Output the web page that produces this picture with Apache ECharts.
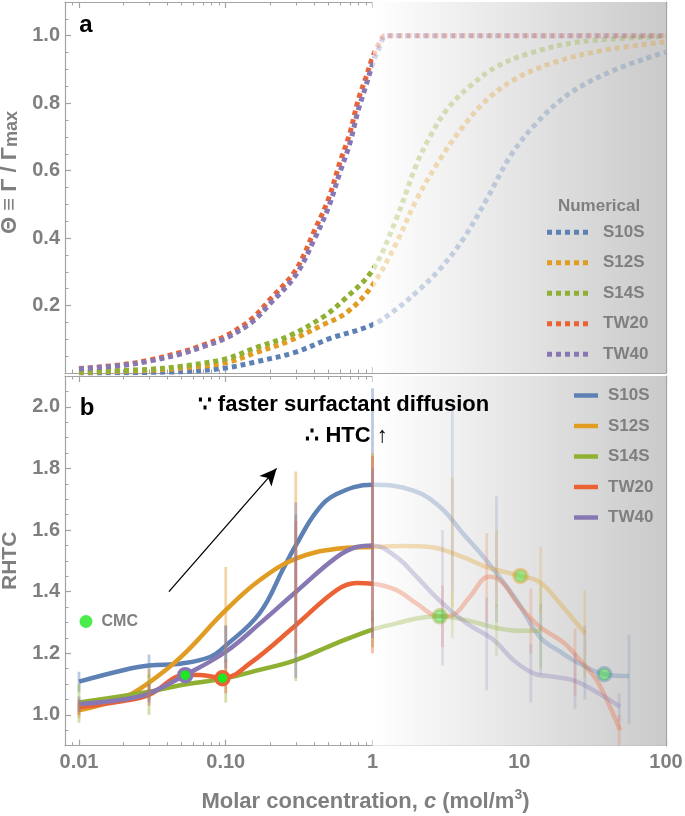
<!DOCTYPE html>
<html><head><meta charset="utf-8">
<script src="https://cdn.jsdelivr.net/npm/echarts@6/dist/echarts.min.js"></script>
<style>html,body{margin:0;padding:0;background:#fff}#c{width:685px;height:816px}</style>
</head><body><div id="c"></div>
<script>
// ---------- data ----------
const seriesNames = ['S10S', 'S12S', 'S14S', 'TW20', 'TW40'];
const seriesColors = ['#5E81B5', '#E19C24', '#8FB032', '#EB6235', '#8778B3'];
const xTickValues = [0.01, 0.1, 1, 10, 100];
const xTickLabels = ['0.01', '0.10', '1', '10', '100'];
const thetaTicks = [0.2, 0.4, 0.6, 0.8, 1.0];
const rhtcTicks = [1.0, 1.2, 1.4, 1.6, 1.8, 2.0];

// panel a: surface coverage (concentration, theta)
const thetaS10S = [[0.01,0.0],[0.05,0.004],[0.1,0.015],[0.16,0.033],[0.3,0.062],[0.51,0.102],[1,0.143],[1.46,0.19],[2,0.24],[2.88,0.308],[4.15,0.397],[6,0.515],[8.7,0.643],[13.1,0.741],[22.2,0.83],[44.4,0.898],[100,0.952]];
const thetaS12S = [[0.01,0.002],[0.03,0.008],[0.06,0.018],[0.1,0.03],[0.16,0.06],[0.27,0.095],[0.46,0.143],[0.67,0.18],[1,0.26],[1.46,0.387],[2,0.515],[2.88,0.633],[4.15,0.731],[6,0.81],[9.6,0.874],[17.9,0.923],[37.7,0.957],[100,0.982]];
const thetaS14S = [[0.01,0.003],[0.03,0.011],[0.05,0.02],[0.1,0.042],[0.16,0.075],[0.27,0.11],[0.46,0.166],[0.63,0.215],[1,0.305],[1.46,0.46],[2,0.62],[2.46,0.70],[3.2,0.78],[4.6,0.85],[7,0.908],[11.8,0.948],[26,0.982],[100,0.998]];
const thetaTW20 = [[0.01,0.013],[0.02,0.025],[0.03,0.038],[0.05,0.062],[0.07,0.083],[0.1,0.11],[0.15,0.16],[0.2,0.218],[0.3,0.305],[0.4,0.42],[0.5,0.515],[0.6,0.625],[0.7,0.71],[0.8,0.81],[0.9,0.875],[1,0.935],[1.1,0.975],[1.22,1.0],[2,1.0],[100,1.0]];
const thetaTW40 = [[0.01,0.012],[0.02,0.023],[0.03,0.035],[0.05,0.057],[0.07,0.078],[0.1,0.103],[0.15,0.15],[0.2,0.205],[0.3,0.29],[0.4,0.395],[0.5,0.49],[0.6,0.595],[0.7,0.68],[0.8,0.78],[0.9,0.85],[1,0.915],[1.1,0.96],[1.25,1.0],[2,1.0],[100,1.0]];

// panel b: RHTC curves (concentration, RHTC)
const rhtcS10S = [[0.01,1.108],[0.02,1.145],[0.03,1.16],[0.05,1.167],[0.078,1.188],[0.1,1.225],[0.17,1.33],[0.25,1.48],[0.3,1.55],[0.42,1.663],[0.57,1.717],[1,1.747],[1.9,1.728],[2.9,1.674],[4.15,1.588],[6,1.50],[9.5,1.375],[13.8,1.253],[19,1.205],[25,1.17],[38,1.132],[56,1.126]];
const rhtcS12S = [[0.01,1.015],[0.02,1.055],[0.03,1.105],[0.05,1.19],[0.1,1.34],[0.17,1.437],[0.3,1.507],[0.57,1.539],[1,1.545],[1.6,1.548],[2.46,1.545],[4.15,1.512],[6,1.48],[10.2,1.451],[13.8,1.431],[19,1.361],[28,1.265]];
const rhtcS14S = [[0.01,1.04],[0.03,1.075],[0.05,1.097],[0.1,1.119],[0.17,1.146],[0.3,1.178],[0.57,1.233],[1,1.277],[1.46,1.297],[2,1.313],[2.88,1.32],[4.15,1.31],[7,1.282],[10,1.273],[14,1.273]];
const rhtcTW20 = [[0.01,1.025],[0.02,1.045],[0.03,1.065],[0.053,1.13],[0.07,1.129],[0.095,1.119],[0.146,1.167],[0.3,1.291],[0.57,1.405],[0.78,1.428],[1,1.426],[1.46,1.405],[2,1.361],[2.88,1.32],[3.5,1.324],[4.6,1.383],[6.2,1.448],[7.6,1.432],[9.8,1.36],[13.8,1.286],[20,1.235],[25.9,1.178],[33.6,1.113],[41.4,1.027],[48.6,0.951]];
const rhtcTW40 = [[0.01,1.035],[0.02,1.05],[0.03,1.07],[0.0527,1.129],[0.1,1.205],[0.171,1.297],[0.3,1.399],[0.57,1.512],[0.78,1.545],[1,1.55],[1.46,1.512],[2,1.448],[2.88,1.37],[4.3,1.30],[6.7,1.243],[9.1,1.178],[12.5,1.135],[17.1,1.124],[23.2,1.113],[31.8,1.081],[48.6,1.027]];

// panel b: error bars (concentration, low, high)
const errS10S = [[0.01,1.075,1.14],[0.03,1.12,1.196],[0.1,1.17,1.29],[0.3,1.3,1.65],[1,1.44,2.06],[3.5,1.4,2.01],[7,1.3,1.71],[14,1.13,1.36],[28,1.05,1.29],[56,0.97,1.26]];
const errS12S = [[0.01,0.99,1.04],[0.03,1.05,1.15],[0.1,1.2,1.48],[0.3,1.25,1.79],[1,1.3,1.85],[3.5,1.35,1.77],[7,1.35,1.6],[14,1.33,1.545],[28,1.12,1.405]];
const errS14S = [[0.01,0.975,1.1],[0.03,1.0,1.13],[0.1,1.04,1.2],[0.3,1.11,1.25],[1,1.22,1.34],[3.5,1.25,1.4],[7,1.19,1.36],[14,1.15,1.42]];
const errTW20 = [[0.01,1.0,1.05],[0.03,1.03,1.1],[0.1,1.07,1.18],[0.3,1.2,1.63],[1,1.2,1.84],[3,1.22,1.42],[6,1.3,1.59],[12,1.2,1.41],[24,1.06,1.28],[48,0.9,1.0]];
const errTW40 = [[0.01,1.01,1.06],[0.03,1.04,1.1],[0.1,1.15,1.29],[0.3,1.12,1.69],[1,1.25,1.8],[3,1.16,1.6],[6,1.08,1.38],[12,1.04,1.23],[24,1.02,1.2],[48,0.98,1.07]];

// CMC markers (concentration, RHTC), one per surfactant
const cmcX = [38, 10.2, 2.88, 0.095, 0.053];
const cmcY = [1.132, 1.451, 1.320, 1.119, 1.129];

// arrow annotation (concentration, RHTC)
const arrowFrom = [0.041, 1.40];
const arrowTo = [0.222, 1.80];

// ---------- chart ----------
const thetaData = [thetaS10S, thetaS12S, thetaS14S, thetaTW20, thetaTW40];
const rhtcData = [rhtcS10S, rhtcS12S, rhtcS14S, rhtcTW20, rhtcTW40];
const errData = [errS10S, errS12S, errS14S, errTW20, errTW40];

const FONT = "'Liberation Sans', Arial, Helvetica, sans-serif";
const GRAY = '#7f7f7f';
const FRAME = '#a3a3a3';
const XMIN = -2.0954, XMAX = 2;
const L = v => Math.log10(v);

function rgba(hex, a) {
  const n = parseInt(hex.slice(1), 16);
  return 'rgba(' + (n >> 16 & 255) + ',' + (n >> 8 & 255) + ',' + (n & 255) + ',' + a + ')';
}

const majorX = xTickValues.map(L);
const minorX = [];
for (let d = -3; d <= 1; d++) for (let m = 2; m <= 9; m++) {
  const v = L(m * Math.pow(10, d));
  if (v > XMIN + 0.004 && v < XMAX - 0.001) minorX.push(v);
}
function minorY(lo, hi, step, majors) {
  const out = [];
  for (let v = lo + step; v < hi - 1e-6; v += step) {
    const r = Math.round(v * 1000) / 1000;
    if (!majors.some(m => Math.abs(m - r) < 1e-6)) out.push(r);
  }
  return out;
}
const minorTheta = minorY(0, 1.1, 0.05, thetaTicks);
const minorRhtc = minorY(0.9, 2.1, 0.05, rhtcTicks);

const grids = [
  {left: 65, right: 19, top: 2, height: 371, containLabel: false, outerBoundsMode: 'none'},
  {left: 65, right: 19, top: 376, height: 369.7, containLabel: false, outerBoundsMode: 'none'}
];

const tickLine = {color: FRAME, width: 1.2};
const labelStyle = {color: GRAY, fontSize: 20, fontWeight: 'bold', fontFamily: FONT};

function xAxesFor(gi, withLabels) {
  const base = {gridIndex: gi, type: 'value', min: XMIN, max: XMAX, splitLine: {show: false}};
  const major = (pos, labels) => Object.assign({}, base, {
    position: pos,
    axisLine: {show: true, onZero: false, lineStyle: tickLine},
    axisTick: {show: true, inside: true, length: 6, customValues: majorX, lineStyle: tickLine},
    axisLabel: labels ? Object.assign({show: true, customValues: majorX, margin: 7,
      formatter: v => { let bi = 0; majorX.forEach((m, i) => { if (Math.abs(m - v) < Math.abs(majorX[bi] - v)) bi = i; }); return xTickLabels[bi]; }
    }, labelStyle) : {show: false}
  });
  const minor = pos => Object.assign({}, base, {
    position: pos,
    axisLine: {show: false, onZero: false},
    axisTick: {show: true, inside: true, length: 3.5, customValues: minorX, lineStyle: {color: FRAME, width: 1}},
    axisLabel: {show: false}
  });
  const m = major('bottom', withLabels);
  if (withLabels) {
    m.name = '{a|Molar concentration, }{i|c}{a| (mol/m}{p|3}{a|)}';
    m.nameLocation = 'middle';
    m.nameGap = 42;
    m.nameTextStyle = {rich: {
      a: {fontSize: 22, fontWeight: 'bold', color: GRAY, fontFamily: FONT, lineHeight: 28},
      i: {fontSize: 22, fontWeight: 'bold', fontStyle: 'italic', color: GRAY, fontFamily: FONT, lineHeight: 28},
      p: {fontSize: 14, fontWeight: 'bold', color: GRAY, fontFamily: FONT, verticalAlign: 'top', lineHeight: 14}
    }};
  }
  return [m, minor('bottom'), major('top', false), minor('top')];
}

function yAxesFor(gi, min, max, majors, minors, name, nameStyle, gap) {
  const base = {gridIndex: gi, type: 'value', min: min, max: max, splitLine: {show: false}};
  const major = (pos, labels) => Object.assign({}, base, {
    position: pos,
    axisLine: {show: true, onZero: false, lineStyle: tickLine},
    axisTick: {show: true, inside: true, length: 6, customValues: majors, lineStyle: tickLine},
    axisLabel: labels ? Object.assign({show: true, customValues: majors, margin: 5, formatter: v => v.toFixed(1)}, labelStyle) : {show: false}
  });
  const minor = pos => Object.assign({}, base, {
    position: pos,
    axisLine: {show: false, onZero: false},
    axisTick: {show: true, inside: true, length: 3.5, customValues: minors, lineStyle: {color: FRAME, width: 1}},
    axisLabel: {show: false}
  });
  const m = major('left', true);
  m.name = name;
  m.nameLocation = 'middle';
  m.nameGap = gap;
  m.nameRotate = 90;
  m.nameTextStyle = nameStyle;
  return [m, minor('left'), major('right', false), minor('right')];
}

const xAxis = xAxesFor(0, false).concat(xAxesFor(1, true));
const yAxis = yAxesFor(0, 0, 1.1, thetaTicks, minorTheta, '{t|Θ ≡ Γ / Γ}{s|max}', {
  padding: [0, 0, 0, 30],
  rich: {
    t: {fontSize: 22, fontWeight: 'bold', color: GRAY, fontFamily: FONT, lineHeight: 22},
    s: {fontSize: 18, fontWeight: 'bold', color: GRAY, fontFamily: FONT, verticalAlign: 'bottom', lineHeight: 18, padding: [6, 0, 0, 0]}
  }
}, 41).concat(yAxesFor(1, 0.9, 2.1, rhtcTicks, minorRhtc, 'RHTC', {
  fontSize: 21, fontWeight: 'bold', color: GRAY, fontFamily: FONT, lineHeight: 21
}, 44));

const bgGradient = () => new echarts.graphic.LinearGradient(0, 0, 1, 0, [
  {offset: 0, color: '#ffffff'}, {offset: 1, color: '#cacaca'}
]);
const splitPieces = (c) => [
  {gte: -4, lte: 0, color: c},
  {gt: 0, lte: 4, color: rgba(c, 0.32)}
];

const series = [];
const visualMap = [];
// backgrounds
[0, 4].forEach(ai => {
  series.push({type: 'line', xAxisIndex: ai, yAxisIndex: ai, data: [], silent: true, z: 0,
    markArea: {silent: true, itemStyle: {color: bgGradient()}, data: [[{xAxis: 0}, {xAxis: XMAX}]]}});
});
// panel a lines
seriesNames.forEach((n, i) => {
  visualMap.push({type: 'piecewise', show: false, dimension: 0, seriesIndex: series.length, pieces: splitPieces(seriesColors[i])});
  series.push({type: 'line', name: 'a:' + n, xAxisIndex: 0, yAxisIndex: 0, z: 2,
    data: thetaData[i].map(p => [L(p[0]), p[1]]),
    smooth: 0.35, symbol: 'none', showSymbol: false,
    itemStyle: {color: seriesColors[i]},
    lineStyle: {width: 5, type: [5, 4], cap: 'butt'}});
});
// panel b lines
seriesNames.forEach((n, i) => {
  visualMap.push({type: 'piecewise', show: false, dimension: 0, seriesIndex: series.length, pieces: splitPieces(seriesColors[i])});
  series.push({type: 'line', name: 'b:' + n, xAxisIndex: 4, yAxisIndex: 4, z: 2,
    data: rhtcData[i].map(p => [L(p[0]), p[1]]),
    smooth: 0.4, symbol: 'none', showSymbol: false,
    itemStyle: {color: seriesColors[i]},
    lineStyle: {width: 4.5}});
});
// error bars
seriesNames.forEach((n, i) => {
  series.push({type: 'custom', name: 'err:' + n, xAxisIndex: 4, yAxisIndex: 4, z: 3, silent: true,
    data: errData[i].map(e => [L(e[0]), e[1], e[2]]),
    renderItem: function (params, api) {
      const x = api.value(0);
      const p1 = api.coord([x, api.value(1)]);
      const p2 = api.coord([x, api.value(2)]);
      return {type: 'line', shape: {x1: p1[0], y1: p1[1], x2: p2[0], y2: p2[1]},
        style: {stroke: seriesColors[i], lineWidth: 2.8, opacity: x <= 0 ? 0.42 : 0.2}};
    }});
});
// CMC markers + arrow
series.push({type: 'scatter', name: 'CMC', xAxisIndex: 4, yAxisIndex: 4, z: 4,
  symbol: 'circle', symbolSize: 13,
  itemStyle: {color: '#1ee81e'},
  data: cmcX.map((x, i) => ({value: [L(x), cmcY[i]],
    itemStyle: {color: '#1ee81e', borderColor: seriesColors[i], borderWidth: 3.5, opacity: x <= 1 ? 1 : 0.4}})),
  markLine: {silent: true, symbol: ['none', 'arrow'], symbolSize: [12, 17],
    lineStyle: {color: '#000', width: 1.3, type: 'solid'}, label: {show: false},
    data: [[{coord: [L(arrowFrom[0]), arrowFrom[1]]}, {coord: [L(arrowTo[0]), arrowTo[1]]}]]}
});

const dotsIcon = 'path://M0,0h5v5h-5z M9,0h5v5h-5z M18,0h5v5h-5z M27,0h5v5h-5z M36,0h5v5h-5z';
const legendText = {color: GRAY, fontSize: 17, fontWeight: 'bold', fontFamily: FONT, lineHeight: 14};
const option = {
  animation: false,
  backgroundColor: '#ffffff',
  grid: grids,
  xAxis: xAxis,
  yAxis: yAxis,
  visualMap: visualMap,
  legend: [
    {data: seriesNames.map(n => ({name: 'a:' + n, icon: dotsIcon})), orient: 'vertical', left: 547, top: 223.7, padding: 0,
      itemWidth: 41, itemHeight: 5, itemGap: 13.5, selectedMode: false,
      formatter: n => n.slice(2), textStyle: Object.assign({padding: [0, 0, 0, 10]}, legendText)},
    {data: seriesNames.map(n => ({name: 'b:' + n, icon: 'rect'})), orient: 'vertical', left: 574, top: 387, padding: 0,
      itemWidth: 24, itemHeight: 4.5, itemGap: 13.5, selectedMode: false,
      formatter: n => n.slice(2), textStyle: Object.assign({padding: [0, 0, 0, 5]}, legendText)},
    {data: ['CMC'], left: 79.5, top: 613.5, padding: 0, itemWidth: 13, itemHeight: 13, icon: 'circle', selectedMode: false,
      textStyle: Object.assign({padding: [0, 0, 0, 4]}, legendText, {fontSize: 16})}
  ],
  graphic: [
    {type: 'text', z: 100, x: 599, y: 206, style: {text: 'Numerical', fill: GRAY, font: 'bold 17px ' + FONT, align: 'center', verticalAlign: 'middle'}},
    {type: 'text', z: 100, x: 86, y: 25, style: {text: 'a', fill: '#000', font: 'bold 24px ' + FONT, align: 'center', verticalAlign: 'middle'}},
    {type: 'text', z: 100, x: 87, y: 408, style: {text: 'b', fill: '#000', font: 'bold 24px ' + FONT, align: 'center', verticalAlign: 'middle'}},
    {type: 'text', z: 100, x: 343.5, y: 405, style: {text: '∵ faster surfactant diffusion', fill: '#000', font: 'bold 22px ' + FONT, align: 'center', verticalAlign: 'middle'}},
    {type: 'text', z: 100, x: 346.5, y: 436, style: {text: '∴ HTC ↑', fill: '#000', font: 'bold 22px ' + FONT, align: 'center', verticalAlign: 'middle'}}
  ],
  series: series
};
const chart = echarts.init(document.getElementById('c'));
chart.setOption(option);
</script>
</body></html>
